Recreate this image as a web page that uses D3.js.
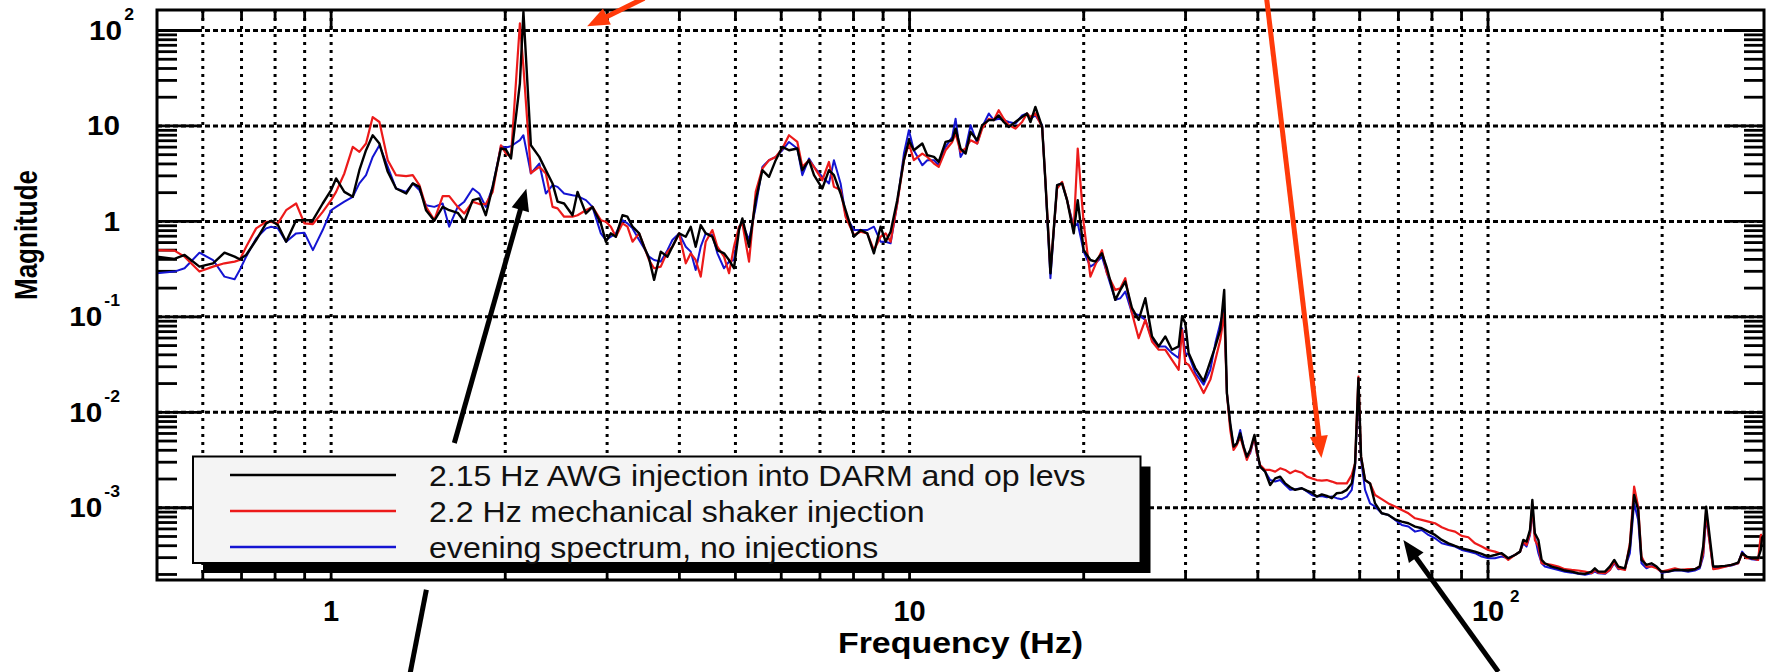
<!DOCTYPE html>
<html>
<head>
<meta charset="utf-8">
<script src="https://cdn.jsdelivr.net/npm/d3@7"></script>
<style>
  body { margin: 0; background: #fff; }
  svg text { font-family: "Liberation Sans", Arial, Helvetica, sans-serif; }
</style>
</head>
<body>
<div class="chart"></div>
<script>

// ---------------- data ----------------

// frequency of every plotted point (Hz), shared by the three spectra
const freqs = [
  0.50, 0.536, 0.558, 0.592, 0.625, 0.654, 0.681, 0.695, 0.713, 0.742, 0.772, 0.788, 0.809, 0.836, 0.870, 0.899,
  0.930, 0.967, 1.000, 1.020, 1.054, 1.090, 1.119, 1.149, 1.180, 1.212, 1.253, 1.295, 1.348, 1.384, 1.421, 1.459,
  1.508, 1.559, 1.600, 1.655, 1.699, 1.757, 1.803, 1.851, 1.902, 1.966, 2.005, 2.046, 2.12, 2.15, 2.215, 2.290,
  2.351, 2.414, 2.463, 2.528, 2.614, 2.667, 2.757, 2.830, 2.926, 2.985, 3.045, 3.106, 3.189, 3.253, 3.319, 3.408,
  3.476, 3.545, 3.617, 3.714, 3.814, 3.890, 3.995, 4.103, 4.185, 4.268, 4.355, 4.442, 4.561, 4.653, 4.778, 4.874,
  4.971, 5.072, 5.140, 5.278, 5.420, 5.566, 5.715, 5.869, 6.027, 6.188, 6.397, 6.525, 6.700, 6.836, 7.066, 7.255,
  7.400, 7.599, 7.752, 8.013, 8.228, 8.450, 8.677, 8.910, 9.091, 9.273, 9.521, 9.777, 9.973, 10.17, 10.52, 10.73, 11.02,
  11.23, 11.54, 11.85, 12.01, 12.25, 12.50, 12.75, 13.09, 13.35, 13.71, 13.98, 14.26, 14.55, 14.84, 15.24, 15.65,
  15.96, 16.18, 16.50, 16.95, 17.17, 17.52, 17.99, 18.35, 18.72, 19.22, 19.53, 20.00, 20.54, 20.95, 21.51, 21.94,
  22.68, 23.14, 23.60, 24.24, 24.89, 25.56, 26.25, 26.96, 27.68, 28.42, 29.19, 29.58, 29.97, 30.37, 31.18, 32.24,
  33.11, 33.78, 34.45, 34.99,
  35.37, 35.84, 36.32, 36.80, 37.29, 37.79, 38.29, 38.80, 39.47, 39.84, 40.37, 41.18, 42.01, 42.86, 43.72, 44.60,
  45.50, 46.41, 47.66, 48.62, 49.59, 50.58, 51.60, 52.64, 53.70, 54.78, 55.87, 57.00, 58.14, 58.91, 59.70, 60.33,
  61.30, 62.53, 63.79, 65.50, 67.26, 69.07, 70.94, 72.84, 74.80, 76.81, 78.87, 80.99, 83.18, 85.42, 87.70, 90.06,
  92.47, 94.96, 97.50, 100.1, 102.8, 105.6, 108.4, 111.3,
  113.6, 115.1, 116.6, 118.2, 119.3, 120.5, 122.2, 123.8, 125.4, 128.8, 132.3, 135.8, 139.5, 143.2, 147.1, 151.0,
  153.0, 155.1, 159.3, 162.4, 165.3, 168.0, 172.5, 175.9, 178.9, 181.8, 184.2, 187.9, 191.7, 195.6, 199.5, 204.8,
  210.4, 216.0, 221.8, 227.8, 232.3, 235.5, 238.3, 240.9, 245.1, 250.0, 256.7, 263.6, 270.7, 275.0, 279.8, 285.4,
  293.1, 296.2, 297.8
];

// 2.15 Hz AWG injection into DARM and op levs (black)
const awgInjection = [
  0.427, 0.404, 0.445, 0.336, 0.364, 0.470, 0.427, 0.401, 0.445, 0.638, 0.953, 1.016, 0.915, 0.613, 1.03, 1.03,
  1.03, 1.54, 2.13, 2.82, 2.04, 1.81, 3.44, 5.57, 7.99, 6.54, 3.31, 2.21, 1.96, 2.50, 2.30, 1.31,
  1.016, 1.42, 1.31, 1.23, 0.99, 1.67, 1.74, 1.16, 2.30, 5.80, 5.66, 4.56, 28, 157, 6.28, 4.74,
  3.44, 2.50, 1.61, 1.54, 1.16, 2.04, 1.21, 1.42, 0.953, 0.613, 0.749, 0.691, 1.16, 1.12, 0.880, 0.749,
  0.543, 0.410, 0.244, 0.482, 0.427, 0.543, 0.749, 0.691, 0.880, 0.543, 0.915, 0.749, 0.691, 0.50, 0.463, 0.394,
  0.323, 0.812, 1.075, 0.543, 1.67, 3.44, 2.93, 4.38, 6.03, 5.57, 5.80, 3.44, 4.38, 3.05, 2.21, 3.44,
  3.05, 1.96, 1.31, 0.691, 0.812, 0.749, 0.463, 0.880, 0.613, 0.780, 1.67, 4.38, 7.08, 5.57, 6.54, 4.94, 4.74,
  4.20, 6.80, 7.08, 9.38, 5.80, 5.14, 8.66, 7.08, 10.2, 11.5, 11.5, 12.9, 11.0, 9.76, 11.0, 12.4,
  13.5, 11.0, 15.8, 9.76, 2.70, 0.286, 2.40, 2.50, 1.67, 0.749, 1.67, 0.50, 0.394, 0.379, 0.463, 0.323,
  0.1506, 0.1915, 0.234, 0.1232, 0.093, 0.1567, 0.0623, 0.0490, 0.0623, 0.0452, 0.0490, 0.1008, 0.0859, 0.0417, 0.0291, 0.0211,
  0.0341, 0.0490, 0.0731, 0.1915,
  0.0158, 0.00766, 0.00437, 0.00473, 0.00602, 0.00437, 0.00343, 0.00403, 0.00579, 0.00403, 0.00270, 0.00239, 0.00173, 0.00203, 0.00212, 0.00180,
  0.00164, 0.00154, 0.00160, 0.00151, 0.00144, 0.00131, 0.00138, 0.00133, 0.00126, 0.00142, 0.00144, 0.00154, 0.00180, 0.00292, 0.0227, 0.00343,
  0.00195, 0.00180, 0.00111, 0.000875, 0.000841, 0.000757, 0.000716, 0.000688, 0.000635, 0.000610, 0.000562, 0.000519, 0.000460, 0.000424, 0.000398, 0.000376,
  0.000361, 0.000347, 0.000328, 0.000308, 0.000320, 0.000334, 0.000296, 0.000320,
  0.000347, 0.000460, 0.000442, 0.000586, 0.001207, 0.000540, 0.000460, 0.000284, 0.000262, 0.000242, 0.000232, 0.000220, 0.000214, 0.000206, 0.000203, 0.000214,
  0.000232, 0.000214, 0.000214, 0.000242, 0.000284, 0.000242, 0.000232, 0.000392, 0.001362, 0.000948, 0.000284, 0.000252, 0.000262, 0.000242, 0.000214, 0.000214,
  0.000223, 0.000223, 0.000220, 0.000227, 0.000242, 0.000392, 0.001028, 0.000586, 0.000242, 0.000242, 0.000246, 0.000252, 0.000266, 0.000334, 0.000308, 0.000296,
  0.000296, 0.000361, 0.000498
];

// 2.2 Hz mechanical shaker injection (red)
const shakerInjection = [
  0.50, 0.494, 0.427, 0.298, 0.336, 0.364, 0.379, 0.394, 0.543, 0.845, 0.99, 0.99, 0.953, 1.31, 1.54, 0.953,
  0.938, 1.26, 1.67, 2.04, 3.18, 6.03, 5.35, 6.54, 12.4, 11.0, 4.38, 3.05, 2.98, 3.05, 2.40, 1.42,
  1.03, 1.84, 1.84, 1.42, 1.21, 1.61, 1.52, 1.52, 2.04, 6.28, 5.14, 4.74, 119, 41.6, 3.20, 3.73,
  3.18, 1.42, 1.37, 1.12, 1.12, 1.16, 1.31, 1.42, 1.03, 0.99, 0.880, 0.691, 0.953, 0.880, 0.613, 0.749,
  0.543, 0.394, 0.323, 0.336, 0.482, 0.543, 0.749, 0.364, 0.463, 0.394, 0.264, 0.613, 0.812, 0.543, 0.427, 0.286,
  0.543, 0.880, 0.953, 0.379, 2.04, 3.58, 4.38, 4.74, 5.80, 7.99, 6.80, 3.73, 4.38, 3.73, 2.70, 4.20,
  2.30, 2.13, 1.12, 0.720, 0.780, 0.749, 0.50, 0.691, 0.749, 0.613, 1.54, 4.38, 6.54, 4.38, 5.14, 4.74, 4.04,
  3.73, 5.57, 6.80, 8.32, 5.35, 5.80, 7.08, 6.54, 9.38, 11.9, 11.5, 14.6, 11.9, 10.2, 9.38, 11.0,
  13.5, 12.4, 13.5, 9.76, 2.70, 0.310, 2.21, 2.60, 1.67, 0.812, 5.80, 0.953, 0.264, 0.350, 0.50, 0.286,
  0.1915, 0.199, 0.254, 0.1092, 0.0598, 0.093, 0.0552, 0.0452, 0.0452, 0.0355, 0.0279, 0.0731, 0.0328, 0.0315, 0.0238, 0.0159,
  0.0220, 0.0355, 0.0575, 0.1092,
  0.0158, 0.00653, 0.00403, 0.00455, 0.00556, 0.00419, 0.00317, 0.00387, 0.00556, 0.00372, 0.00281, 0.00249, 0.00249, 0.00239, 0.00259, 0.00249,
  0.00230, 0.00245, 0.00233, 0.00212, 0.00203, 0.00195, 0.00192, 0.00195, 0.00188, 0.00180, 0.00180, 0.00180, 0.00221, 0.00292, 0.0236, 0.00343,
  0.00195, 0.00180, 0.00136, 0.00123, 0.00111, 0.00103, 0.000948, 0.000875, 0.000776, 0.000746, 0.000716, 0.000688, 0.000625, 0.000585, 0.000562, 0.000507,
  0.000491, 0.000424, 0.000392, 0.000361, 0.000347, 0.000328, 0.000284, 0.000320,
  0.000347, 0.000442, 0.000408, 0.000540, 0.001070, 0.000460, 0.000392, 0.000262, 0.000258, 0.000252, 0.000242, 0.000227, 0.000223, 0.000220, 0.000214, 0.000206,
  0.000223, 0.000209, 0.000206, 0.000223, 0.000273, 0.000232, 0.000223, 0.000424, 0.001665, 0.001028, 0.000308, 0.000242, 0.000242, 0.000232, 0.000214, 0.000223,
  0.000232, 0.000223, 0.000227, 0.000227, 0.000242, 0.000334, 0.000911, 0.000498, 0.000227, 0.000232, 0.000242, 0.000252, 0.000262, 0.000334, 0.000296, 0.000296,
  0.000284, 0.000519, 0.000519
];

// evening spectrum, no injections (blue)
const eveningSpectrum = [
  0.286, 0.298, 0.323, 0.470, 0.394, 0.264, 0.248, 0.310, 0.427, 0.664, 0.845, 0.880, 0.845, 0.613, 0.749, 0.761,
  0.50, 0.812, 1.31, 1.42, 1.61, 1.81, 2.50, 3.05, 4.74, 6.28, 3.73, 2.21, 2.04, 2.50, 2.13, 1.48,
  1.42, 1.54, 0.880, 1.42, 1.61, 2.21, 1.96, 1.42, 2.30, 6.13, 5.94, 6.13, 7.1, 8.0, 3.18, 4.04,
  1.96, 2.40, 2.30, 1.96, 1.88, 1.84, 1.67, 1.42, 0.749, 0.638, 0.691, 0.749, 1.03, 0.953, 0.845, 0.638,
  0.522, 0.427, 0.394, 0.379, 0.50, 0.638, 0.749, 0.543, 0.482, 0.310, 0.543, 0.749, 0.720, 0.463, 0.323, 0.379,
  0.394, 0.880, 0.953, 0.638, 1.42, 3.73, 4.38, 4.74, 5.57, 6.80, 5.80, 3.05, 4.56, 3.73, 2.93, 2.50,
  4.38, 2.50, 1.16, 0.812, 0.812, 0.812, 0.880, 0.613, 0.613, 0.589, 1.54, 5.14, 9.01, 5.57, 3.88, 4.38, 4.38,
  3.88, 6.03, 7.67, 11.9, 4.74, 5.80, 10.2, 6.54, 9.76, 13.5, 11.5, 11.9, 11.5, 11.0, 10.6, 12.9,
  13.5, 11.9, 12.9, 10.2, 2.60, 0.254, 2.40, 2.50, 1.67, 0.880, 0.953, 0.482, 0.336, 0.364, 0.427, 0.286,
  0.1506, 0.1567, 0.184, 0.1092, 0.1049, 0.093, 0.0575, 0.0490, 0.0490, 0.0417, 0.0370, 0.0761, 0.0417, 0.0401, 0.0258, 0.0195,
  0.0279, 0.0531, 0.0859, 0.1232,
  0.0158, 0.00736, 0.00437, 0.00473, 0.00653, 0.00437, 0.00330, 0.00372, 0.00556, 0.00372, 0.00270, 0.00239, 0.00195, 0.00188, 0.00195, 0.00173,
  0.00154, 0.00156, 0.00160, 0.00148, 0.00136, 0.00131, 0.00133, 0.00129, 0.00131, 0.00126, 0.00123, 0.00131, 0.00154, 0.00270, 0.0171, 0.00317,
  0.00154, 0.00111, 0.00103, 0.000875, 0.000841, 0.000746, 0.000661, 0.000635, 0.000562, 0.000585, 0.000519, 0.000479, 0.000424, 0.000408, 0.000392, 0.000361,
  0.000347, 0.000334, 0.000308, 0.000296, 0.000296, 0.000308, 0.000296, 0.000320,
  0.000347, 0.000424, 0.000392, 0.000519, 0.000948, 0.000498, 0.000334, 0.000262, 0.000242, 0.000232, 0.000223, 0.000214, 0.000209, 0.000203, 0.000198, 0.000206,
  0.000214, 0.000206, 0.000203, 0.000223, 0.000262, 0.000227, 0.000232, 0.000334, 0.001113, 0.000746, 0.000262, 0.000232, 0.000246, 0.000238, 0.000209, 0.000214,
  0.000220, 0.000220, 0.000214, 0.000220, 0.000232, 0.000308, 0.000808, 0.000498, 0.000232, 0.000238, 0.000242, 0.000248, 0.000262, 0.000347, 0.000303, 0.000289,
  0.000284, 0.000442, 0.000442
];

const seriesNames = [
  "2.15 Hz AWG injection into DARM and op levs",
  "2.2 Hz mechanical shaker injection",
  "evening spectrum, no injections"
];
const seriesColors = ["#000000", "#ec1a1a", "#1414d2"];

// axis ranges and tick labels
const xDomain = [0.5, 300];
const yDomain = [1.75e-4, 164];
const xLabelValues = [1, 10, 100];
const xLabelBases = ["1", "10", "10"];
const xLabelSups = ["", "", "2"];
const yLabelValues = [1e-3, 1e-2, 1e-1, 1, 10, 100];
const yLabelBases = ["10", "10", "10", "1", "10", "10"];
const yLabelSups = ["-3", "-2", "-1", "", "", "2"];

// annotation arrows, ends given as [frequency, magnitude]
const arrows = [
  { from: [3.476, 218], to: [2.771, 110.9], color: "#ff3a0a", head: true },
  { from: [41.42, 218], to: [51.53, 0.00332], color: "#ff3a0a", head: true },
  { from: [1.633, 0.00477], to: [2.175, 2.205], color: "#000", head: true },
  { from: [1.461, 1.38e-4], to: [1.371, 1.91e-5], color: "#000", head: false },
  { from: [104.2, 1.91e-5], to: [71.4, 4.6e-4], color: "#000", head: true }
];

// ---------------- layout ----------------

const width = 1772,
      height = 672;

const plot = { left: 157, right: 1764, top: 10, bottom: 580 };

const svg = d3.select(".chart")
  .append("svg")
  .attr("width", width)
  .attr("height", height);

const x = d3.scaleLog().domain(xDomain).range([plot.left, plot.right]);
const y = d3.scaleLog().domain(yDomain).range([plot.bottom, plot.top]);

// 1..9 multiples of each decade that fall inside a domain
const multiples = ([lo, hi]) => {
  const out = [];
  for (let e = Math.floor(Math.log10(lo)); e <= Math.ceil(Math.log10(hi)); e++) {
    for (let k = 1; k < 10; k++) {
      const v = +(k * Math.pow(10, e)).toPrecision(6);
      if (v >= lo * 0.9999 && v <= hi * 1.0001) out.push({ v, major: k === 1 });
    }
  }
  return out;
};

const xTicks = multiples(xDomain).filter(d => d.v > xDomain[0] && d.v < xDomain[1]);
const yTicks = multiples(yDomain).filter(d => d.v > yDomain[0] && d.v < yDomain[1]);

// ---------------- grid ----------------

const grid = svg.append("g").attr("class", "grid");

grid.selectAll("line.vx")
  .data(xTicks)
  .join("line")
    .attr("class", "vx")
    .attr("x1", d => x(d.v)).attr("x2", d => x(d.v))
    .attr("y1", plot.top).attr("y2", plot.bottom)
    .attr("stroke", "#000")
    .attr("stroke-width", 3)
    .attr("stroke-dasharray", "3 5");

grid.selectAll("line.hy")
  .data(yTicks.filter(d => d.major))
  .join("line")
    .attr("class", "hy")
    .attr("x1", plot.left).attr("x2", plot.right)
    .attr("y1", d => y(d.v)).attr("y2", d => y(d.v))
    .attr("stroke", "#000")
    .attr("stroke-width", 3)
    .attr("stroke-dasharray", "5 3");

// ---------------- ticks ----------------

const ticks = svg.append("g").attr("class", "ticks")
  .attr("stroke", "#000")
  .attr("stroke-width", 2.8);

// x ticks, inward from top and bottom
ticks.selectAll("line.xb")
  .data(xTicks)
  .join("line")
    .attr("class", "xb")
    .attr("x1", d => x(d.v)).attr("x2", d => x(d.v))
    .attr("y1", plot.bottom).attr("y2", d => plot.bottom - (d.major ? 20 : 10));

ticks.selectAll("line.xt")
  .data(xTicks)
  .join("line")
    .attr("class", "xt")
    .attr("x1", d => x(d.v)).attr("x2", d => x(d.v))
    .attr("y1", plot.top).attr("y2", d => plot.top + (d.major ? 20 : 10));

// y ticks, inward from left and right
ticks.selectAll("line.yl")
  .data(yTicks)
  .join("line")
    .attr("class", "yl")
    .attr("x1", plot.left).attr("x2", d => plot.left + (d.major ? 44 : 20))
    .attr("y1", d => y(d.v)).attr("y2", d => y(d.v));

ticks.selectAll("line.yr")
  .data(yTicks)
  .join("line")
    .attr("class", "yr")
    .attr("x1", plot.right).attr("x2", d => plot.right - (d.major ? 40 : 20))
    .attr("y1", d => y(d.v)).attr("y2", d => y(d.v));

// ---------------- spectra ----------------

svg.append("clipPath")
  .attr("id", "plot-clip")
  .append("rect")
    .attr("x", plot.left).attr("y", plot.top)
    .attr("width", plot.right - plot.left)
    .attr("height", plot.bottom - plot.top);

const line = d3.line()
  .defined(d => d != null && d > 0)
  .x((d, i) => x(freqs[i]))
  .y(d => y(d));

const series = [awgInjection, shakerInjection, eveningSpectrum];
const lineWidths = [2.4, 2.2, 2];

// blue first, black on top
svg.append("g")
  .attr("clip-path", "url(#plot-clip)")
  .selectAll("path")
  .data([2, 1, 0])
  .join("path")
    .attr("d", i => line(series[i]))
    .attr("fill", "none")
    .attr("stroke", i => seriesColors[i])
    .attr("stroke-width", i => lineWidths[i])
    .attr("stroke-linejoin", "round");

// ---------------- frame ----------------

svg.append("rect")
  .attr("x", plot.left).attr("y", plot.top)
  .attr("width", plot.right - plot.left)
  .attr("height", plot.bottom - plot.top)
  .attr("fill", "none")
  .attr("stroke", "#000")
  .attr("stroke-width", 3);

// ---------------- tick labels ----------------

// the original figure is stretched sideways, so are its labels
const yLabels = svg.append("g")
  .attr("font-weight", "bold")
  .attr("font-size", 27);

yLabelValues.forEach((v, i) => {
  const sup = yLabelSups[i];
  // labels with a positive power hang their exponent past the column
  const right = sup && sup[0] !== "-" ? 134 : 120;
  const t = yLabels.append("text")
    .attr("transform", `translate(${right},${y(v) + 9.5}) scale(1.1,1)`)
    .attr("text-anchor", "end");
  t.append("tspan").text(yLabelBases[i]);
  if (sup) {
    t.append("tspan")
      .attr("dy", -20)
      .attr("dx", 2)
      .attr("font-size", 16)
      .text(sup);
  }
});

const xLabels = svg.append("g")
  .attr("font-weight", "bold");

xLabelValues.forEach((v, i) => {
  xLabels.append("text")
    .attr("x", x(v))
    .attr("y", 621)
    .attr("text-anchor", "middle")
    .attr("font-size", 29)
    .text(xLabelBases[i]);
  if (xLabelSups[i]) {
    xLabels.append("text")
      .attr("x", x(v) + 22)
      .attr("y", 602)
      .attr("font-size", 17)
      .text(xLabelSups[i]);
  }
});

// stretch a text element horizontally by a factor
const stretch = (sel, k) => sel.each(function () {
  const w = this.getComputedTextLength();
  d3.select(this)
    .attr("textLength", w * k)
    .attr("lengthAdjust", "spacingAndGlyphs");
});

// axis titles
svg.append("text")
  .attr("x", (plot.left + plot.right) / 2)
  .attr("y", 653)
  .attr("text-anchor", "middle")
  .attr("font-weight", "bold")
  .attr("font-size", 29)
  .text("Frequency (Hz)")
  .call(stretch, 1.17);

svg.append("text")
  .attr("transform", "translate(37,235) scale(1.22,1) rotate(-90)")
  .attr("text-anchor", "middle")
  .attr("font-weight", "bold")
  .attr("font-size", 26)
  .text("Magnitude");

// ---------------- legend ----------------

const legend = { x: 193, y: 456.5, w: 947.5, h: 106.5, shadow: 10 };

svg.append("rect")
  .attr("x", legend.x + legend.shadow)
  .attr("y", legend.y + legend.shadow)
  .attr("width", legend.w)
  .attr("height", legend.h)
  .attr("fill", "#000");

svg.append("rect")
  .attr("x", legend.x)
  .attr("y", legend.y)
  .attr("width", legend.w)
  .attr("height", legend.h)
  .attr("fill", "#f4f4f4")
  .attr("stroke", "#000")
  .attr("stroke-width", 2);

const rows = svg.append("g")
  .selectAll("g")
  .data(seriesNames)
  .join("g")
    .attr("transform", (d, i) => `translate(0,${legend.y + 18.5 + i * 36})`);

rows.append("line")
  .attr("x1", 230).attr("x2", 396)
  .attr("stroke", (d, i) => seriesColors[i])
  .attr("stroke-width", (d, i) => lineWidths[i] + 0.3);

rows.append("text")
  .attr("x", 429)
  .attr("y", 10.5)
  .attr("font-size", 29)
  .attr("fill", "#111")
  .text(d => d)
  .call(stretch, 1.106);

// ---------------- annotation arrows ----------------

const arrowLayer = svg.append("g");

arrows.forEach(a => {
  const x1 = x(a.from[0]), y1 = y(a.from[1]);
  const x2 = x(a.to[0]), y2 = y(a.to[1]);
  const len = Math.hypot(x2 - x1, y2 - y1);
  const ux = (x2 - x1) / len, uy = (y2 - y1) / len;
  const headLen = a.head ? 22 : 0, headHalf = 9;
  const bx = x2 - ux * headLen, by = y2 - uy * headLen;

  arrowLayer.append("line")
    .attr("x1", x1).attr("y1", y1)
    .attr("x2", bx + ux * 2).attr("y2", by + uy * 2)
    .attr("stroke", a.color)
    .attr("stroke-width", 5);

  if (a.head) {
    arrowLayer.append("polygon")
      .attr("points", [
        [x2, y2],
        [bx - uy * headHalf, by + ux * headHalf],
        [bx + uy * headHalf, by - ux * headHalf]
      ].map(p => p.join(",")).join(" "))
      .attr("fill", a.color);
  }
});

</script>
</body>
</html>
